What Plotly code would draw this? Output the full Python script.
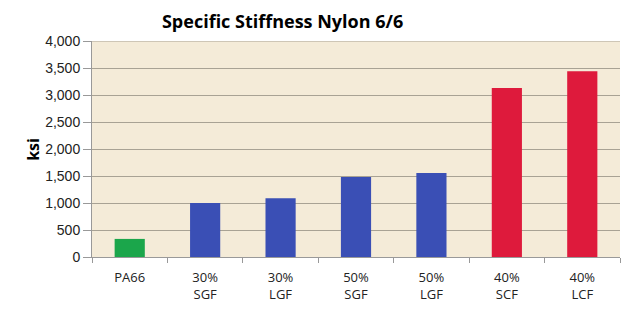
import plotly.graph_objects as go

categories = ["PA66", "30%<br>SGF", "30%<br>LGF", "50%<br>SGF", "50%<br>LGF", "40%<br>SCF", "40%<br>LCF"]
values = [335, 1000, 1090, 1480, 1555, 3130, 3440]
colors = ["#1BA64B", "#3A4FB5", "#3A4FB5", "#3A4FB5", "#3A4FB5", "#DE1A3C", "#DE1A3C"]
y_ticks = [0, 500, 1000, 1500, 2000, 2500, 3000, 3500, 4000]

fig = go.Figure(go.Bar(x=categories, y=values, marker=dict(color=colors, line=dict(width=0)), width=0.4))

fig.update_layout(
    width=628, height=313,
    margin=dict(l=92, r=8, t=41, b=56),
    paper_bgcolor="white",
    plot_bgcolor="#F4EBD8",
    showlegend=False,
    title=dict(text="<b>Specific Stiffness Nylon 6/6</b>", x=0.45, xanchor="center", y=0.93, yanchor="middle",
               font=dict(family="Open Sans", size=18, color="black")),
    font=dict(family="Liberation Sans", size=12, color="#222"),
)
fig.update_yaxes(range=[0, 4000], tickvals=y_ticks, tickformat=",d", showgrid=True, gridcolor="#A8A294",
                 gridwidth=1, ticks="outside", ticklen=8, tickcolor="#999", showline=True, linecolor="#999",
                 zeroline=False, tickfont=dict(size=14))
fig.add_annotation(text="<b>ksi</b>", xref="paper", yref="paper", x=-0.112, y=0.5, xanchor="center",
                   yanchor="middle", textangle=-90, showarrow=False,
                   font=dict(family="Open Sans", size=16, color="black"))
fig.update_xaxes(showline=True, linecolor="#999", ticks="outside", tickson="boundaries", ticklen=5,
                 tickcolor="#999", ticklabelstandoff=8, tickfont=dict(family="Open Sans", size=13, color="#222"))
fig.add_shape(type="line", xref="paper", yref="y", x0=0, x1=1, y0=4000, y1=4000, line=dict(color="#A8A294", width=1))

fig.write_html("out.html")
